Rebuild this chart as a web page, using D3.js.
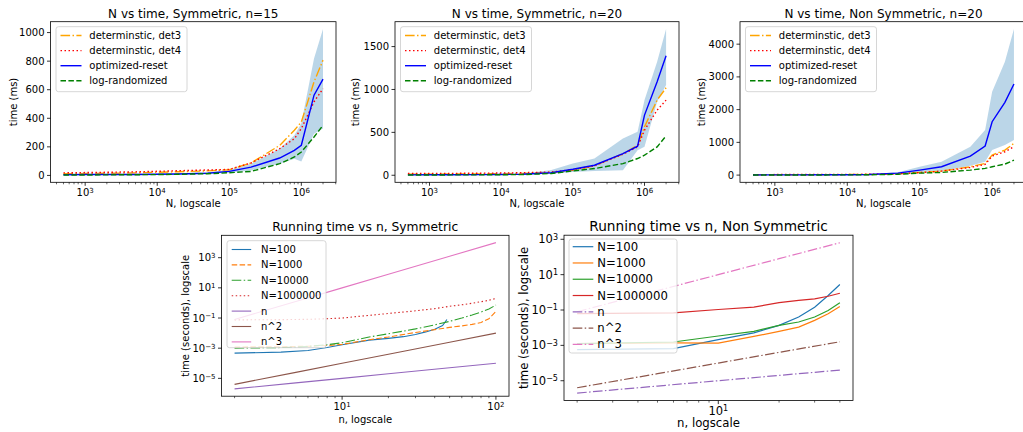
<!DOCTYPE html>
<html>
<head>
<meta charset="utf-8">
<script src="https://cdn.jsdelivr.net/npm/d3@7"></script>
<style>
  body { margin: 0; background: #fff; }
  text { font-family: "DejaVu Sans", sans-serif; fill: #000; }
</style>
</head>
<body>
<svg id="fig" width="1023" height="432"></svg>
<script>
// ---- data: top row (N vs time) ----
const bigN = [500, 1000, 2000, 5000, 10000, 20000, 50000, 100000, 200000, 500000, 800000, 1000000, 1500000, 2000000];

const sym15Det3 = [12, 13, 15, 18, 22, 26, 32, 40, 87, 210, 316, 374, 655, 807];
const sym15Det4 = [18, 20, 22, 25, 29, 33, 38, 42, 87, 187, 257, 328, 515, 608];
const sym15Opt  = [5, 6, 6, 7, 8, 10, 15, 28, 58, 122, 175, 211, 562, 674];
const sym15Rand = [3, 3, 4, 5, 6, 8, 12, 19, 28, 82, 129, 164, 269, 351];
const sym15Lo   = [3, 4, 4, 5, 6, 8, 12, 19, 35, 82, 117, 98, 292, 328];
const sym15Hi   = [8, 9, 10, 11, 13, 15, 22, 40, 82, 187, 281, 363, 819, 1025];

const sym20Det3 = [12, 13, 14, 16, 18, 22, 30, 60, 110, 250, 350, 565, 876, 1020];
const sym20Det4 = [20, 21, 22, 24, 26, 30, 38, 65, 110, 245, 331, 526, 759, 876];
const sym20Opt  = [5, 6, 6, 7, 9, 12, 30, 70, 117, 253, 339, 701, 1090, 1394];
const sym20Rand = [3, 3, 4, 5, 6, 8, 20, 50, 78, 136, 195, 234, 331, 460];
const sym20Lo   = [3, 4, 4, 5, 6, 8, 18, 39, 50, 58, 292, 331, 857, 1051];
const sym20Hi   = [8, 9, 10, 11, 13, 18, 60, 136, 195, 428, 506, 876, 1324, 1705];

const ns20Det3 = [10, 11, 12, 14, 16, 20, 40, 82, 122, 255, 357, 611, 764, 968];
const ns20Det4 = [15, 16, 17, 19, 21, 25, 40, 75, 122, 234, 326, 581, 713, 866];
const ns20Opt  = [5, 6, 7, 9, 12, 18, 60, 153, 255, 581, 887, 1630, 2222, 2782];
const ns20Rand = [3, 3, 4, 5, 7, 10, 25, 61, 82, 153, 204, 255, 336, 459];
const ns20Lo   = [3, 4, 5, 6, 8, 12, 40, 82, 122, 285, 408, 764, 917, 1070];
const ns20Hi   = [8, 9, 10, 13, 17, 26, 90, 255, 408, 866, 1376, 2548, 3465, 4463];

const topXTicks = [1e3, 1e4, 1e5, 1e6];
const yTicks15 = [0, 200, 400, 600, 800, 1000];
const yTicks20 = [0, 500, 1000, 1500];
const yTicksNs = [0, 1000, 2000, 3000, 4000];

// ---- data: bottom row (running time vs n) ----
const nSym100 = [2, 4, 6, 8, 10, 15, 20, 25, 30, 35, 40, 45, 48];
const symN100 = [4.7e-4, 5.5e-4, 7e-4, 1.1e-3, 1.7e-3, 3.4e-3, 4.5e-3, 5.8e-3, 8e-3, 1.2e-2, 1.8e-2, 3.2e-2, 8e-2];
const nSym = [2, 4, 6, 8, 10, 15, 20, 30, 40, 50, 60, 70, 80, 90, 100];
const symN1000 = [1.2e-3, 1.25e-3, 1.35e-3, 1.5e-3, 1.8e-3, 3.6e-3, 5.5e-3, 1.1e-2, 1.7e-2, 2.4e-2, 3e-2, 3.8e-2, 5e-2, 9e-2, 0.28];
const symN10000 = [1.0e-3, 1.1e-3, 1.3e-3, 1.7e-3, 2.3e-3, 5.5e-3, 9e-3, 1.9e-2, 3.5e-2, 6e-2, 0.1, 0.16, 0.25, 0.4, 0.72];
const symN1000000 = [7.5e-2, 7.8e-2, 8.2e-2, 9e-2, 0.1, 0.15, 0.2, 0.3, 0.42, 0.6, 0.75, 0.95, 1.2, 1.5, 2.0];
const nRefSym = [2, 5, 10, 20, 50, 100];
const refSymN = [2e-6, 5e-6, 1e-5, 2e-5, 5e-5, 1e-4];
const refSymN2 = [4e-6, 2.5e-5, 1e-4, 4e-4, 2.5e-3, 1e-2];
const refSymN3 = [0.08, 1.25, 10, 80, 1250, 10000];

const nNs = [2, 6, 10, 15, 20, 25, 30, 35, 40];
const nsN100 = [5.7e-4, 6.5e-4, 2.1e-3, 5.1e-3, 1.35e-2, 4e-2, 0.145, 0.66, 2.75];
const nsN1000 = [1.26e-3, 1.4e-3, 1.35e-3, 3.2e-3, 6.2e-3, 1.07e-2, 2.6e-2, 6.2e-2, 0.16];
const nsN10000 = [1.26e-3, 1.55e-3, 3.4e-3, 6.2e-3, 1.35e-2, 2.1e-2, 4e-2, 9.3e-2, 0.26];
const nsN1000000 = [6.2e-2, 6.9e-2, 0.107, 0.145, 0.26, 0.35, 0.43, 0.6, 0.89];
const nRefNs = [2, 5, 10, 20, 40];
const refNsN = [2e-6, 5e-6, 1e-5, 2e-5, 4e-5];
const refNsN2 = [4e-6, 2.5e-5, 1e-4, 4e-4, 1.6e-3];
const refNsN3 = [0.08, 1.25, 10, 80, 640];

const bottomYTicks = [1e-5, 1e-3, 1e-1, 1e1, 1e3];
const symXTicks = [1e1, 1e2];
const nsXTicks = [1e1];

// ---- styles ----
const DASHDOT = '9.6,2.4,1.5,2.4', DASHED = '5.5,2.4', DOTTED = '1.5,2.5';
const C = ['#1f77b4', '#ff7f0e', '#2ca02c', '#d62728', '#9467bd', '#8c564b', '#e377c2'];

const svg = d3.select('#fig');
let clipId = 0;

function logPad(vals) {
  const e = d3.extent(vals).map(Math.log10);
  const m = (e[1] - e[0]) * 0.05;
  return [Math.pow(10, e[0] - m), Math.pow(10, e[1] + m)];
}
function linPad(vals) {
  const e = d3.extent(vals);
  const m = (e[1] - e[0]) * 0.05;
  return [e[0] - m, e[1] + m];
}
function powLabel(t, v) {
  const e = Math.round(Math.log10(v));
  t.append('tspan').text('10');
  t.append('tspan').attr('dy', '-0.45em').attr('font-size', '0.7em').text(e < 0 ? '\u2212' + (-e) : String(e));
}

function drawPanel(p) {
  const g = svg.append('g');
  const allX = p.series.flatMap(s => s.x);
  const allY = p.series.flatMap(s => s.band ? s.lo.concat(s.hi) : s.y);
  const x = d3.scaleLog().domain(logPad(allX)).range([p.left, p.right]);
  const y = (p.yLog ? d3.scaleLog().domain(logPad(allY)) : d3.scaleLinear().domain(linPad(allY)))
    .range([p.bottom, p.top]);
  const fs = p.fs;

  const id = 'clip' + (clipId++);
  g.append('clipPath').attr('id', id).append('rect')
    .attr('x', p.left).attr('y', p.top).attr('width', p.right - p.left).attr('height', p.bottom - p.top);
  const plot = g.append('g').attr('clip-path', `url(#${id})`);

  p.series.forEach(s => {
    if (s.band) {
      const area = d3.area().x((d, i) => x(s.x[i])).y0((d, i) => y(s.lo[i])).y1((d, i) => y(s.hi[i]));
      plot.append('path').attr('d', area(s.lo)).attr('fill', '#1f77b4').attr('fill-opacity', 0.3);
    } else {
      const line = d3.line().x((d, i) => x(s.x[i])).y(d => y(d));
      plot.append('path').attr('d', line(s.y)).attr('fill', 'none')
        .attr('stroke', s.color).attr('stroke-width', p.lw).attr('stroke-dasharray', s.dash || null);
    }
  });

  // frame
  g.append('rect').attr('x', p.left).attr('y', p.top).attr('width', p.right - p.left).attr('height', p.bottom - p.top)
    .attr('fill', 'none').attr('stroke', '#000').attr('stroke-width', 0.8);

  // x ticks (log)
  const dom = x.domain();
  x.ticks().filter(v => v >= dom[0] && v <= dom[1]).forEach(v => {
    const major = p.xTicks.includes(v);
    g.append('line').attr('x1', x(v)).attr('x2', x(v)).attr('y1', p.bottom).attr('y2', p.bottom + (major ? 3.5 : 2))
      .attr('stroke', '#000').attr('stroke-width', major ? 0.8 : 0.6);
  });
  p.xTicks.forEach(v => {
    const t = g.append('text').attr('x', x(v)).attr('y', p.bottom + p.xTickOff)
      .attr('text-anchor', 'middle').attr('font-size', fs.tick);
    powLabel(t, v);
  });

  // y ticks
  p.yTicks.forEach(v => {
    g.append('line').attr('x1', p.left - 3.5).attr('x2', p.left).attr('y1', y(v)).attr('y2', y(v))
      .attr('stroke', '#000').attr('stroke-width', 0.8);
    const t = g.append('text').attr('x', p.left - 6).attr('y', y(v)).attr('dy', '0.35em')
      .attr('text-anchor', 'end').attr('font-size', fs.tick);
    if (p.yLog) powLabel(t, v); else t.text(v);
  });

  // title and labels
  g.append('text').attr('x', (p.left + p.right) / 2).attr('y', p.top - 4)
    .attr('text-anchor', 'middle').attr('font-size', fs.title).text(p.title);
  g.append('text').attr('x', (p.left + p.right) / 2).attr('y', p.bottom + p.xLabelOff)
    .attr('text-anchor', 'middle').attr('font-size', fs.label).text(p.xLabel);
  g.append('text').attr('transform', `translate(${p.yLabelX},${(p.top + p.bottom) / 2}) rotate(-90)`)
    .attr('text-anchor', 'middle').attr('font-size', fs.label).text(p.yLabel);

  // legend
  const lg = p.legend;
  g.append('rect').attr('x', lg.x).attr('y', lg.y).attr('width', lg.w).attr('height', lg.h).attr('rx', 2.5)
    .attr('fill', '#fff').attr('fill-opacity', 0.8).attr('stroke', '#cccccc').attr('stroke-width', 0.8);
  p.series.filter(s => !s.band).forEach((s, i) => {
    const yy = lg.row0 + i * lg.step;
    g.append('line').attr('x1', lg.hx).attr('x2', lg.hx + lg.hl).attr('y1', yy).attr('y2', yy)
      .attr('stroke', s.color).attr('stroke-width', p.lw).attr('stroke-dasharray', s.dash || null);
    g.append('text').attr('x', lg.tx).attr('y', yy).attr('dy', '0.35em').attr('font-size', fs.legend).text(s.label);
  });
}

function topSeries(det3, det4, opt, rand, lo, hi) {
  return [
    { band: true, x: bigN, lo: lo, hi: hi },
    { label: 'determinstic, det3', x: bigN, y: det3, color: 'orange', dash: DASHDOT },
    { label: 'determinstic, det4', x: bigN, y: det4, color: 'red', dash: DOTTED },
    { label: 'optimized-reset', x: bigN, y: opt, color: 'blue' },
    { label: 'log-randomized', x: bigN, y: rand, color: 'green', dash: DASHED }
  ];
}

const topFs = { tick: 10, label: 10, title: 12, legend: 10 };
function topPanel(left, right, title, yTicks, series, yLabelX) {
  drawPanel({
    left: left, right: right, top: 21.7, bottom: 182.3, lw: 1.4, fs: topFs,
    title: title, xLabel: 'N, logscale', yLabel: 'time (ms)', yLabelX: yLabelX,
    xTicks: topXTicks, yTicks: yTicks, xTickOff: 13.8, xLabelOff: 25,
    series: series,
    legend: { x: left + 5.5, y: 26.7, w: 131, h: 65, row0: 35.5, step: 15.1, hx: left + 10, hl: 21, tx: left + 38.8 }
  });
}

topPanel(50.5, 336, 'N vs time, Symmetric, n=15', yTicks15,
  topSeries(sym15Det3, sym15Det4, sym15Opt, sym15Rand, sym15Lo, sym15Hi), 16.8);
topPanel(395, 679, 'N vs time, Symmetric, n=20', yTicks20,
  topSeries(sym20Det3, sym20Det4, sym20Opt, sym20Rand, sym20Lo, sym20Hi), 358.5);
topPanel(740, 1027, 'N vs time, Non Symmetric, n=20', yTicksNs,
  topSeries(ns20Det3, ns20Det4, ns20Opt, ns20Rand, ns20Lo, ns20Hi), 705.2);

drawPanel({
  left: 221.5, right: 509, top: 235.3, bottom: 396.2, lw: 1.1, yLog: true,
  fs: { tick: 10, label: 10, title: 12.3, legend: 10 },
  title: 'Running time vs n, Symmetric', xLabel: 'n, logscale', yLabel: 'time (seconds), logscale', yLabelX: 188.5,
  xTicks: symXTicks, yTicks: bottomYTicks, xTickOff: 13.5, xLabelOff: 26.5,
  series: [
    { label: 'N=100', x: nSym100, y: symN100, color: C[0] },
    { label: 'N=1000', x: nSym, y: symN1000, color: C[1], dash: DASHED },
    { label: 'N=10000', x: nSym, y: symN10000, color: C[2], dash: DASHDOT },
    { label: 'N=1000000', x: nSym, y: symN1000000, color: C[3], dash: DOTTED },
    { label: 'n', x: nRefSym, y: refSymN, color: C[4] },
    { label: 'n^2', x: nRefSym, y: refSymN2, color: C[5] },
    { label: 'n^3', x: nRefSym, y: refSymN3, color: C[6] }
  ],
  legend: { x: 227, y: 240.7, w: 99, h: 107, row0: 249.5, step: 15.4, hx: 231.7, hl: 19.5, tx: 261 }
});

drawPanel({
  left: 564, right: 853, top: 235.2, bottom: 400.6, lw: 1.2, yLog: true,
  fs: { tick: 11.5, label: 11.7, title: 13.7, legend: 11.7 },
  title: 'Running time vs n, Non Symmetric', xLabel: 'n, logscale', yLabel: 'time (seconds), logscale', yLabelX: 527.5,
  xTicks: nsXTicks, yTicks: bottomYTicks, xTickOff: 14.3, xLabelOff: 26.3,
  series: [
    { label: 'N=100', x: nNs, y: nsN100, color: C[0] },
    { label: 'N=1000', x: nNs, y: nsN1000, color: C[1] },
    { label: 'N=10000', x: nNs, y: nsN10000, color: C[2] },
    { label: 'N=1000000', x: nNs, y: nsN1000000, color: C[3] },
    { label: 'n', x: nRefNs, y: refNsN, color: C[4], dash: DASHDOT },
    { label: 'n^2', x: nRefNs, y: refNsN2, color: C[5], dash: DASHDOT },
    { label: 'n^3', x: nRefNs, y: refNsN3, color: C[6], dash: DASHDOT }
  ],
  legend: { x: 569, y: 239, w: 108, h: 114, row0: 246.7, step: 16.27, hx: 572.7, hl: 20.6, tx: 597.3 }
});
</script>
</body>
</html>
